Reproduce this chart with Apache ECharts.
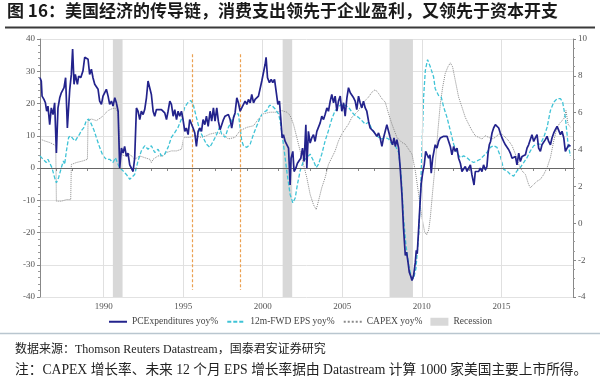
<!DOCTYPE html>
<html><head><meta charset="utf-8">
<script src="https://cdn.jsdelivr.net/npm/echarts@6/dist/echarts.min.js"></script>
<style>html,body{margin:0;padding:0;background:#fff}#c{width:600px;height:381px}</style>
</head><body><div id="c"></div>
<script>
// PCE yoy% (right axis), [year, value]
const pceData = [
[1986.00,7.90],[1986.08,7.72],[1986.13,6.90],[1986.25,6.72],[1986.34,6.54],[1986.42,6.08],[1986.50,6.36],[1986.61,5.35],[1986.71,6.26],[1986.82,5.90],[1986.92,6.54],[1987.03,3.81],[1987.13,6.26],[1987.24,6.81],[1987.34,7.08],[1987.51,7.36],[1987.61,7.90],[1987.72,5.17],[1987.87,7.27],[1987.97,8.08],[1988.05,9.45],[1988.14,7.54],[1988.22,8.08],[1988.35,7.54],[1988.43,7.99],[1988.56,7.90],[1988.70,8.27],[1988.81,9.01],[1988.91,9.09],[1989.02,8.90],[1989.12,8.08],[1989.23,8.36],[1989.33,7.90],[1989.44,7.54],[1989.54,7.54],[1989.65,7.27],[1989.75,6.63],[1989.86,6.45],[1989.96,6.90],[1990.07,6.81],[1990.17,7.27],[1990.28,6.90],[1990.38,6.45],[1990.49,6.63],[1990.59,6.36],[1990.70,6.81],[1990.80,6.54],[1990.91,6.08],[1991.01,2.99],[1991.12,4.08],[1991.22,3.81],[1991.32,4.17],[1991.43,3.63],[1991.53,3.81],[1991.64,3.17],[1991.74,3.26],[1991.85,2.81],[1991.95,3.53],[1992.06,6.26],[1992.16,6.08],[1992.27,5.63],[1992.37,6.08],[1992.48,5.90],[1992.58,6.17],[1992.69,6.81],[1992.79,7.72],[1992.90,7.81],[1993.00,6.99],[1993.11,6.08],[1993.21,5.81],[1993.32,6.17],[1993.42,6.08],[1993.63,6.17],[1993.84,5.99],[1993.95,5.63],[1994.05,6.08],[1994.16,6.63],[1994.26,6.45],[1994.37,5.81],[1994.47,6.17],[1994.58,5.63],[1994.68,6.08],[1994.78,5.81],[1994.89,6.08],[1994.99,5.63],[1995.10,4.99],[1995.20,5.17],[1995.31,4.81],[1995.41,5.63],[1995.52,5.54],[1995.62,5.17],[1995.73,4.90],[1995.83,4.17],[1995.94,4.99],[1996.04,5.17],[1996.15,4.99],[1996.25,5.63],[1996.36,5.35],[1996.46,5.81],[1996.57,5.26],
[1996.69,6.08],[1996.79,5.54],[1996.90,6.26],[1997.00,5.54],[1997.11,6.26],[1997.21,5.54],[1997.32,5.08],[1997.42,4.99],[1997.53,5.63],[1997.63,5.81],[1997.74,5.72],[1997.84,5.90],[1997.95,5.63],[1998.05,5.17],[1998.16,5.72],[1998.26,5.99],[1998.37,6.81],[1998.47,6.54],[1998.58,6.08],[1998.68,6.26],[1998.79,6.36],[1998.89,6.63],[1999.00,6.45],[1999.10,6.72],[1999.21,6.54],[1999.31,6.99],[1999.42,6.54],[1999.52,6.72],[1999.63,6.63],[1999.73,6.90],[1999.84,6.81],[1999.94,7.72],[2000.04,7.63],[2000.15,8.63],[2000.21,9.01],[2000.30,7.90],[2000.42,7.63],[2000.53,7.81],[2000.63,7.63],[2000.74,7.81],[2000.84,7.17],[2000.95,6.45],[2001.05,6.63],[2001.13,5.72],[2001.22,4.63],[2001.30,4.81],[2001.41,4.44],[2001.51,4.54],[2001.62,4.08],[2001.72,2.08],[2001.78,3.53],[2001.89,3.90],[2001.97,2.81],[2002.08,2.99],[2002.18,3.26],[2002.29,3.17],[2002.39,3.53],[2002.50,4.08],[2002.60,3.35],[2002.71,5.35],[2002.77,2.99],[2002.87,4.99],[2002.98,4.35],[2003.08,4.63],[2003.19,4.81],[2003.29,4.44],[2003.40,4.99],[2003.50,4.99],[2003.61,5.45],[2003.71,5.81],[2003.82,5.63],[2003.92,5.90],[2004.03,6.26],[2004.13,6.08],[2004.24,6.63],[2004.34,6.99],[2004.45,6.54],[2004.55,6.90],[2004.66,6.08],[2004.76,6.63],[2004.87,6.90],[2004.97,6.08],[2005.08,6.54],[2005.18,5.81],[2005.29,6.81],[2005.39,7.36],[2005.50,7.08],[2005.60,6.99],[2005.71,6.81],[2005.81,6.63],[2005.91,6.17],[2006.02,6.90],[2006.12,6.54],[2006.23,6.26],[2006.33,6.63],[2006.44,6.26],[2006.54,6.08],[2006.65,5.54],[2006.75,5.17],[2006.86,5.26],[2006.96,4.99],[2007.07,4.99],[2007.17,4.72],[2007.28,4.90],[2007.38,4.63],[2007.49,4.17],[2007.59,4.63],
[2007.70,4.72],[2007.80,5.35],[2007.91,5.45],[2007.99,4.72],[2008.08,4.44],[2008.16,4.26],[2008.25,4.63],[2008.33,4.17],[2008.43,4.54],[2008.54,4.08],[2008.64,2.99],[2008.75,1.53],[2008.85,-0.29],[2008.96,-1.74],[2009.04,-1.56],[2009.13,-2.11],[2009.21,-2.65],[2009.29,-2.84],[2009.38,-3.11],[2009.48,-2.84],[2009.59,-2.11],[2009.65,-1.47],[2009.71,-1.65],[2009.80,-0.29],[2009.88,0.99],[2009.96,2.17],[2010.05,2.72],[2010.15,3.17],[2010.24,3.90],[2010.32,3.81],[2010.43,3.53],[2010.51,3.72],[2010.59,2.72],[2010.68,3.53],[2010.76,3.90],[2010.84,4.26],[2010.95,4.08],[2011.05,4.44],[2011.16,4.63],[2011.26,4.66],[2011.37,4.72],[2011.47,4.77],[2011.58,4.72],[2011.68,4.63],[2011.79,4.17],[2011.89,3.72],[2012.00,4.17],[2012.10,3.90],[2012.21,4.08],[2012.31,3.53],[2012.42,3.26],[2012.52,2.81],[2012.63,2.90],[2012.73,3.08],[2012.84,2.81],[2012.94,2.99],[2013.05,3.17],[2013.15,2.62],[2013.28,2.08],[2013.36,2.81],[2013.47,2.90],[2013.57,2.81],[2013.67,2.99],[2013.78,2.81],[2013.88,3.17],[2013.99,2.90],[2014.09,3.08],[2014.16,3.81],[2014.24,4.26],[2014.32,4.44],[2014.41,4.90],[2014.51,5.17],[2014.62,5.35],[2014.72,5.26],[2014.83,5.17],[2014.93,4.90],[2015.04,4.63],[2015.14,4.44],[2015.25,4.26],[2015.35,4.17],[2015.46,3.99],[2015.56,3.81],[2015.67,3.53],[2015.77,3.63],[2015.88,3.63],[2015.98,3.17],[2016.09,3.81],[2016.19,3.35],[2016.30,3.63],[2016.40,3.53],[2016.51,3.72],[2016.61,4.08],[2016.71,4.26],[2016.82,4.17],[2016.92,4.81],[2017.03,4.44],[2017.13,4.63],[2017.24,4.81],[2017.34,4.08],[2017.45,3.90],[2017.55,4.26],[2017.66,4.17],[2017.76,4.54],[2017.87,4.72],[2017.97,4.44],[2018.08,4.26],[2018.18,4.63],[2018.29,4.90],[2018.39,5.08],[2018.50,5.26],[2018.60,5.35],[2018.71,4.81],[2018.81,4.99],[2018.92,4.63],[2019.02,3.90],[2019.13,3.90],[2019.23,4.26],[2019.34,4.17]
];
// 12m-FWD EPS yoy% (left axis)
const epsData = [
[1986.00,3.75],[1986.19,2.7],[1986.40,1.7],[1986.50,2.7],[1986.61,3.2],[1986.75,0.1],[1986.92,-3.0],[1987.03,-4.6],[1987.17,-3.0],[1987.34,0.1],[1987.47,2.2],[1987.55,1.1],[1987.66,5.3],[1987.80,9.5],[1987.93,10.0],[1988.08,9.0],[1988.22,8.4],[1988.35,9.5],[1988.49,10.5],[1988.60,11.6],[1988.77,12.6],[1988.91,14.7],[1989.06,15.2],[1989.23,13.6],[1989.40,11.6],[1989.54,9.5],[1989.75,6.4],[1989.96,3.75],[1990.17,2.7],[1990.38,2.7],[1990.59,1.7],[1990.74,3.2],[1990.91,1.1],[1991.01,0.1],[1991.22,-0.9],[1991.43,-2.0],[1991.64,-3.5],[1991.74,-4.1],[1991.95,-2.0],[1992.16,2.2],[1992.37,5.3],[1992.58,6.9],[1992.79,5.8],[1993.00,6.9],[1993.21,4.8],[1993.42,5.8],[1993.63,3.75],[1993.84,4.3],[1994.05,6.4],[1994.26,9.5],[1994.47,11.0],[1994.68,12.6],[1994.89,15.2],[1995.10,18.9],[1995.31,20.4],[1995.48,20.9],[1995.62,19.9],[1995.83,15.7],[1996.04,11.6],[1996.25,9.5],[1996.46,7.4],[1996.67,6.4],
[1996.90,8.4],[1997.11,10.5],[1997.28,12.6],[1997.42,10.5],[1997.63,9.5],[1997.84,12.6],[1998.05,14.7],[1998.26,16.8],[1998.47,16.8],[1998.68,8.4],[1998.79,6.9],[1999.00,6.4],[1999.21,7.4],[1999.42,10.5],[1999.63,13.1],[1999.84,15.7],[2000.04,17.3],[2000.25,17.8],[2000.42,19.4],[2000.57,19.4],[2000.78,18.3],[2000.99,16.8],[2001.09,14.7],[2001.30,7.4],[2001.51,-0.9],[2001.72,-8.2],[2001.89,-10.8],[2002.04,-9.3],[2002.18,-5.1],[2002.35,-0.9],[2002.56,2.2],[2002.77,3.2],[2002.98,4.3],[2003.19,2.2],[2003.36,0.1],[2003.50,1.1],[2003.71,4.3],[2003.92,8.4],[2004.13,11.6],[2004.34,15.2],[2004.55,17.8],[2004.76,18.9],[2004.97,19.9],[2005.18,19.4],[2005.39,18.9],[2005.60,17.3],[2005.81,16.3],[2006.02,15.7],[2006.23,14.7],[2006.44,13.6],[2006.65,14.2],[2006.86,12.1],[2007.07,10.5],[2007.28,9.5],[2007.49,9.0],
[2007.70,9.5],[2007.91,9.0],[2008.12,7.4],[2008.33,6.9],[2008.54,4.8],[2008.71,-3.0],[2008.85,-15.5],[2009.00,-23.9],[2009.17,-30.1],[2009.34,-33.75],[2009.48,-34.3],[2009.63,-31.1],[2009.80,-20.7],[2009.92,-7.2],[2010.01,6.4],[2010.11,22.0],[2010.22,30.3],[2010.36,33.6],[2010.53,31.4],[2010.74,28.2],[2010.84,24.6],[2011.05,22.5],[2011.22,22.0],[2011.37,18.9],[2011.58,15.7],[2011.79,11.6],[2012.00,7.4],[2012.21,4.8],[2012.42,3.2],[2012.63,3.75],[2012.84,3.2],[2013.05,2.2],[2013.26,1.7],[2013.47,2.2],[2013.67,2.7],[2013.88,3.75],[2014.09,4.8],[2014.30,6.4],[2014.51,6.9],[2014.72,6.4],[2014.93,3.75],[2015.14,-0.4],[2015.35,-0.9],[2015.56,-2.0],[2015.77,-2.5],[2015.98,-0.9],[2016.19,0.1],[2016.40,1.7],[2016.61,3.2],[2016.82,5.3],[2017.03,6.9],[2017.24,7.4],[2017.45,7.4],[2017.66,9.5],[2017.87,12.6],[2018.08,17.8],[2018.29,20.4],[2018.50,21.5],[2018.71,21.5],[2018.85,20.4],[2019.02,15.7],[2019.19,7.4],[2019.34,3.75]
];
// CAPEX yoy% (left axis)
const capexData = [
[1986.00,9.0],[1986.29,8.4],[1986.61,7.9],[1986.82,7.4],[1986.99,6.9],[1987.03,-10.3],[1987.34,-10.3],[1987.66,-9.8],[1987.93,-9.8],[1987.97,1.1],[1988.29,1.7],[1988.70,2.2],[1988.98,2.7],[1989.02,14.7],[1989.23,15.2],[1989.54,14.7],[1989.86,15.7],[1990.07,16.8],[1990.28,17.8],[1990.49,18.3],[1990.70,18.6],[1990.91,17.3],[1991.01,5.3],[1991.07,4.3],[1991.32,3.75],[1991.64,4.3],[1991.95,2.7],[1992.27,3.75],[1992.58,3.2],[1992.90,2.7],[1993.00,1.7],[1993.11,2.7],[1993.42,3.75],[1993.74,3.75],[1993.95,4.8],[1994.26,5.3],[1994.58,5.3],[1994.89,5.8],[1994.99,6.4],[1995.04,9.5],[1995.41,9.5],[1995.73,10.0],[1996.15,9.5],[1996.46,10.0],[1996.67,10.5],
[1997.11,11.0],[1997.53,10.5],[1997.84,9.0],[1998.26,9.5],[1998.58,11.6],[1999.00,12.6],[1999.42,13.1],[1999.73,15.2],[2000.04,16.8],[2000.46,17.3],[2000.88,17.3],[2001.20,17.8],[2001.51,17.3],[2001.72,16.3],[2001.93,13.6],[2002.14,9.5],[2002.35,5.3],[2002.56,1.1],[2002.77,-3.0],[2002.98,-8.2],[2003.19,-11.4],[2003.36,-12.9],[2003.50,-10.3],[2003.71,-6.1],[2003.92,-3.0],[2004.13,1.1],[2004.34,3.2],[2004.55,5.3],[2004.76,8.4],[2004.97,10.5],[2005.18,12.1],[2005.39,13.6],[2005.60,15.7],[2005.81,16.8],[2006.02,17.8],[2006.23,19.9],[2006.44,20.9],[2006.65,22.0],[2006.86,23.5],[2007.07,24.3],[2007.28,23.1],[2007.49,21.5],
[2007.70,20.4],[2007.91,16.8],[2008.12,13.6],[2008.43,9.5],[2008.75,7.9],[2008.96,7.4],[2009.17,5.8],[2009.38,4.3],[2009.59,-0.9],[2009.80,-8.2],[2010.01,-15.5],[2010.17,-19.7],[2010.30,-20.7],[2010.43,-19.2],[2010.53,-15.5],[2010.68,-7.2],[2010.84,1.1],[2011.01,11.6],[2011.16,19.9],[2011.31,25.1],[2011.47,29.3],[2011.64,31.4],[2011.79,32.6],[2011.93,31.4],[2012.10,27.2],[2012.31,22.0],[2012.52,18.9],[2012.73,15.7],[2012.94,13.6],[2013.15,11.6],[2013.36,10.0],[2013.57,9.5],[2013.78,9.0],[2013.99,10.0],[2014.20,9.5],[2014.41,9.0],[2014.62,9.5],[2014.83,10.5],[2015.04,10.5],[2015.25,9.5],[2015.46,8.4],[2015.67,6.9],[2015.88,4.3],[2016.09,1.1],[2016.30,-0.9],[2016.51,-2.0],[2016.71,-5.1],[2016.82,-6.1],[2017.03,-5.1],[2017.24,-4.1],[2017.45,-3.5],[2017.66,-2.0],[2017.87,0.1],[2018.08,3.2],[2018.29,8.4],[2018.50,12.6],[2018.71,14.2],[2018.92,15.2],[2019.06,17.8],[2019.19,13.6],[2019.34,12.6]
];
const recessionStart = [1990.58, 2001.25, 2007.97];
const recessionEnd = [1991.19, 2001.85, 2009.44];
const markerYears = [1995.56, 1998.60];
const gridYears = [1990, 1995, 2000, 2005, 2010, 2015];
const seriesNames = ['PCExpenditures yoy%', '12m-FWD EPS yoy%', 'CAPEX yoy%', 'Recession'];

const serif = '"Liberation Serif","Noto Sans CJK SC",serif';
const chart = echarts.init(document.getElementById('c'), null, {renderer: 'canvas'});
chart.setOption({
  animation: false,
  backgroundColor: '#fff',
  grid: {left: 40, right: 27, top: 39, bottom: 84},
  xAxis: {
    type: 'value', min: 1986, max: 2019.5, interval: 1,
    axisLine: {show: true, lineStyle: {color: '#888'}},
    axisTick: {show: true, length: 3, lineStyle: {color: '#888'}},
    splitLine: {show: false},
    axisLabel: {color: '#555', fontSize: 9, fontFamily: serif, margin: 5,
      formatter: v => (v % 5 === 0 ? String(v) : '')}
  },
  yAxis: [{
    type: 'value', min: -40, max: 40, interval: 10,
    axisLine: {show: true, lineStyle: {color: '#888'}},
    axisTick: {show: true, length: 3, lineStyle: {color: '#888'}},
    minorTick: {show: true, splitNumber: 5, length: 2, lineStyle: {color: '#999'}},
    splitLine: {show: true, lineStyle: {color: '#e2e2e2', width: 1}},
    axisLabel: {color: '#555', fontSize: 9, fontFamily: serif, margin: 5}
  }, {
    type: 'value', min: -4, max: 10, interval: 2, position: 'right',
    axisLine: {show: true, lineStyle: {color: '#888'}},
    axisTick: {show: true, length: 3, lineStyle: {color: '#888'}},
    minorTick: {show: true, splitNumber: 4, length: 2, lineStyle: {color: '#999'}},
    splitLine: {show: false},
    axisLabel: {color: '#555', fontSize: 9, fontFamily: serif, margin: 5}
  }],
  legend: {
    left: 103, top: 312, itemWidth: 18, itemHeight: 8, itemGap: 8,
    itemStyle: {opacity: 0},
    textStyle: {color: '#444', fontSize: 9.5, fontFamily: serif},
    data: [
      {name: seriesNames[0]},
      {name: seriesNames[1]},
      {name: seriesNames[2]},
      {name: seriesNames[3], icon: 'rect', itemStyle: {opacity: 1, color: '#d8d8d8'}}
    ]
  },
  series: [
    {
      name: seriesNames[3], type: 'line', data: [], yAxisIndex: 0,
      itemStyle: {color: '#d8d8d8'}, lineStyle: {color: '#d8d8d8'},
      markArea: {silent: true, itemStyle: {color: '#d8d8d8'},
        data: recessionStart.map((s, i) => [{xAxis: s}, {xAxis: recessionEnd[i]}])},
      markLine: {silent: true, symbol: 'none', label: {show: false},
        lineStyle: {color: '#e0e0e0', type: 'solid', width: 1},
        data: gridYears.map(y => ({xAxis: y}))}
    },
    {
      name: seriesNames[2], type: 'line', data: capexData, yAxisIndex: 0,
      showSymbol: false, symbol: 'none',
      lineStyle: {color: '#8a8a8a', width: 1, type: 'dotted'}, itemStyle: {color: '#8a8a8a'},
      markLine: {silent: true, symbol: 'none', label: {show: false},
        lineStyle: {color: '#666', type: 'solid', width: 1},
        data: [{yAxis: 0}]}
    },
    {
      name: seriesNames[1], type: 'line', data: epsData, yAxisIndex: 0,
      showSymbol: false, symbol: 'none',
      lineStyle: {color: '#3fc3d6', width: 1.3, type: [4, 2]}, itemStyle: {color: '#3fc3d6'},
      markLine: {silent: true, symbol: 'none', label: {show: false},
        lineStyle: {color: '#eba050', type: [3, 2], width: 1.2},
        data: markerYears.map(y => [{coord: [y, 35.3]}, {coord: [y, -37.8]}])}
    },
    {
      name: seriesNames[0], type: 'line', data: pceData, yAxisIndex: 1,
      showSymbol: false, symbol: 'none', z: 5,
      lineStyle: {color: '#23238c', width: 1.7}, itemStyle: {color: '#23238c'}
    }
  ],
  graphic: [
    {type: 'text', left: 7, top: 2, style: {text: '图 16：美国经济的传导链，消费支出领先于企业盈利，又领先于资本开支',
      fill: '#1a1a1a', font: 'bold 17px "Noto Sans CJK SC"'}},
    {type: 'line', shape: {x1: 5, y1: 27.5, x2: 595, y2: 27.5}, style: {stroke: '#3a3a3a', lineWidth: 2}},
    {type: 'line', shape: {x1: 0, y1: 333.5, x2: 600, y2: 333.5}, style: {stroke: '#b9c6cf', lineWidth: 1.5}},
    {type: 'text', left: 15, top: 344, style: {text: '数据来源：Thomson Reuters Datastream，国泰君安证券研究',
      fill: '#222', font: '12px "Liberation Serif","Noto Sans CJK SC"'}},
    {type: 'text', left: 15, top: 364, style: {text: '注：CAPEX 增长率、未来 12 个月 EPS 增长率据由 Datastream 计算 1000 家美国主要上市所得。',
      fill: '#222', font: '13.7px "Liberation Serif","Noto Sans CJK SC"'}}
  ]
});
</script></body></html>
